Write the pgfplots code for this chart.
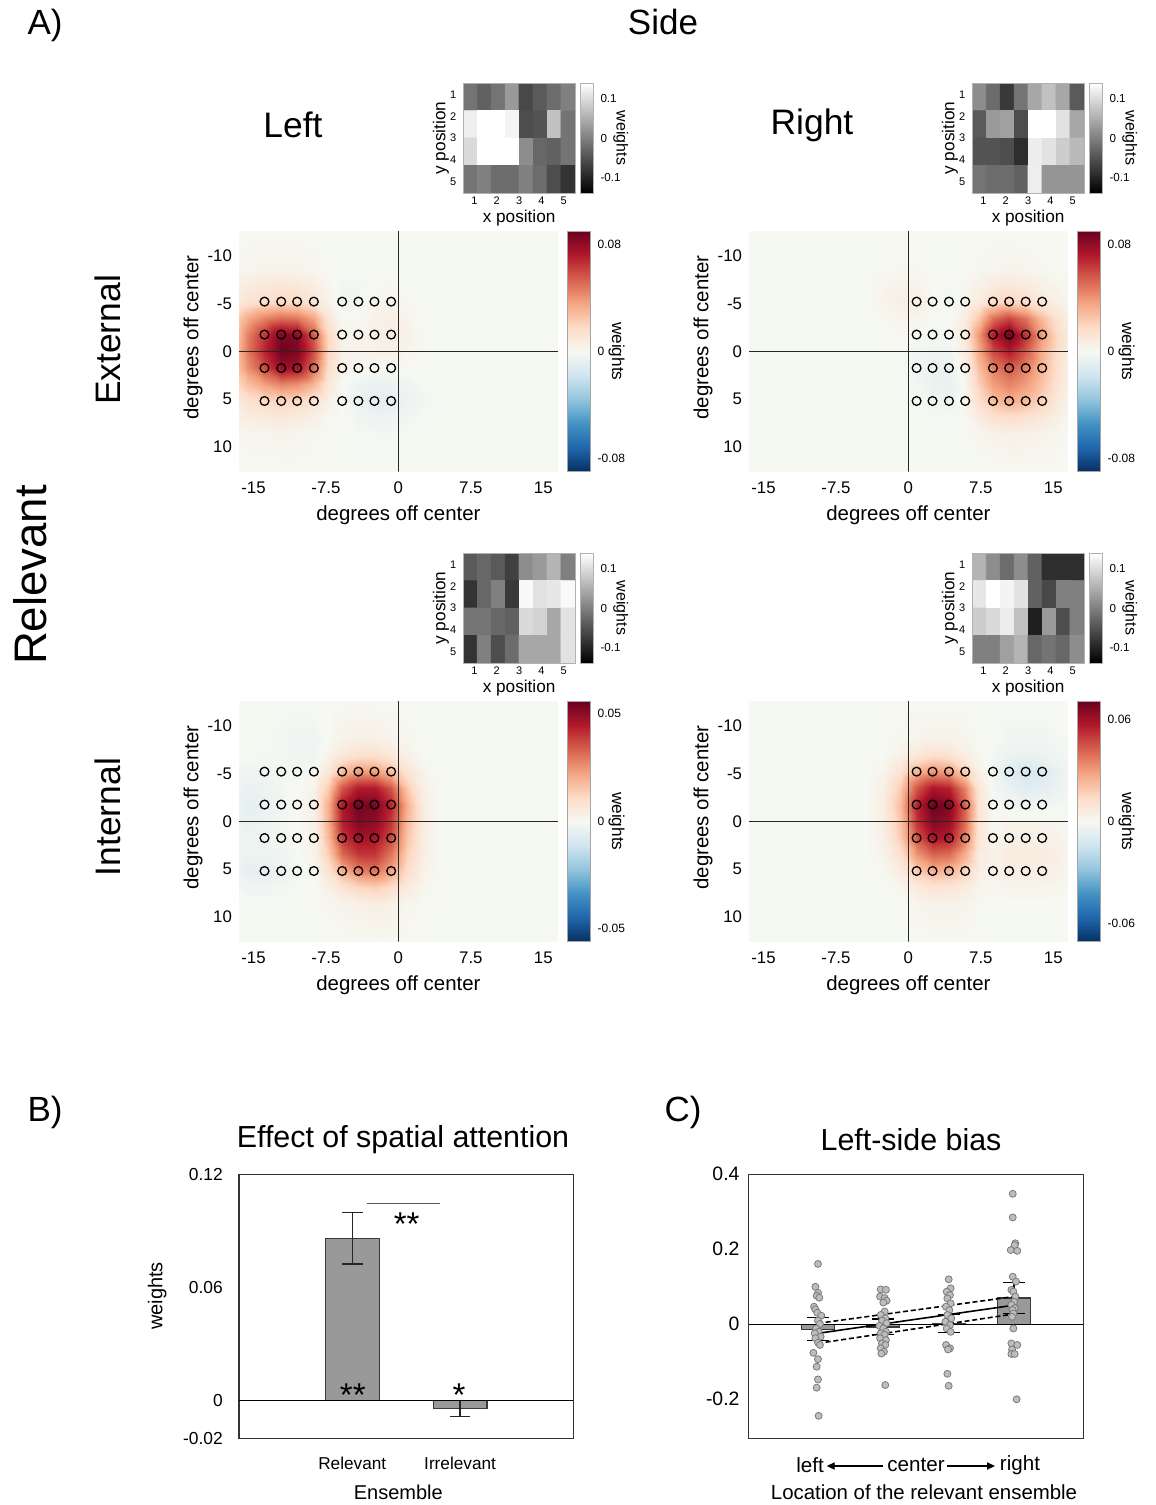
\documentclass[border=0pt]{standalone}
\usepackage{fontspec}
\setmainfont{Liberation Sans}
\usepackage{pgfplots}
\usepackage{pgfplotstable}
\pgfplotsset{compat=1.18}
\usetikzlibrary{arrows.meta}
\newcommand\fs[1]{\fontsize{#1}{#1}\selectfont}
\definecolor{barfill}{HTML}{999999}
\definecolor{baredge}{HTML}{3A3A3A}
\definecolor{ptfill}{HTML}{BDBDBD}
\definecolor{ptedge}{HTML}{7A7A7A}
\pgfplotsset{colormap={rdbu}{rgb255=(5,48,97) rgb255=(33,102,172) rgb255=(67,147,195) rgb255=(146,197,222) rgb255=(209,229,240) rgb255=(246,248,242) rgb255=(253,219,199) rgb255=(244,165,130) rgb255=(214,96,77) rgb255=(178,24,43) rgb255=(103,0,31)}}

% ---------- heat-map data (x, y up = -y shown, weight) ----------
\pgfplotstableread[row sep=\\]{x y z\\
-16.5 12.6 0\\-15.55 12.6 0\\-13.85 12.6 0\\-12.15 12.6 0\\-10.45 12.6 0\\-8.75 12.6 0\\-7.3 12.6 0\\-5.85 12.6 0\\-4.15 12.6 0\\-2.45 12.6 0\\-0.75 12.6 0\\0.9 12.6 0\\2.6 12.6 0\\4.3 12.6 0\\16.5 12.6 0\\
-16.5 8.65 0.001\\-15.55 8.65 0.002\\-13.85 8.65 0.003\\-12.15 8.65 0.003\\-10.45 8.65 0.003\\-8.75 8.65 0.002\\-7.3 8.65 0\\-5.85 8.65 0\\-4.15 8.65 0\\-2.45 8.65 0\\-0.75 8.65 0\\0.9 8.65 0\\2.6 8.65 0\\4.3 8.65 0\\16.5 8.65 0\\
-16.5 6.9 0.006\\-15.55 6.9 0.008\\-13.85 6.9 0.01\\-12.15 6.9 0.011\\-10.45 6.9 0.01\\-8.75 6.9 0.006\\-7.3 6.9 0.002\\-5.85 6.9 -0.002\\-4.15 6.9 -0.002\\-2.45 6.9 0\\-0.75 6.9 0.001\\0.9 6.9 0\\2.6 6.9 0\\4.3 6.9 0\\16.5 6.9 0\\
-16.5 5.2 0.01\\-15.55 5.2 0.013\\-13.85 5.2 0.016\\-12.15 5.2 0.018\\-10.45 5.2 0.017\\-8.75 5.2 0.012\\-7.3 5.2 0.004\\-5.85 5.2 -0.003\\-4.15 5.2 -0.002\\-2.45 5.2 0.002\\-0.75 5.2 0.003\\0.9 5.2 0.001\\2.6 5.2 0\\4.3 5.2 0\\16.5 5.2 0\\
-16.5 3.45 0.024\\-15.55 3.45 0.034\\-13.85 3.45 0.045\\-12.15 3.45 0.05\\-10.45 3.45 0.048\\-8.75 3.45 0.035\\-7.3 3.45 0.012\\-5.85 3.45 0\\-4.15 3.45 0\\-2.45 3.45 0.004\\-0.75 3.45 0.006\\0.9 3.45 0.003\\2.6 3.45 0\\4.3 3.45 0\\16.5 3.45 0\\
-16.5 1.75 0.03\\-15.55 1.75 0.046\\-13.85 1.75 0.066\\-12.15 1.75 0.085\\-10.45 1.75 0.082\\-8.75 1.75 0.055\\-7.3 1.75 0.018\\-5.85 1.75 0.003\\-4.15 1.75 0.004\\-2.45 1.75 0.006\\-0.75 1.75 0.007\\0.9 1.75 0.004\\2.6 1.75 0\\4.3 1.75 0\\16.5 1.75 0\\
-16.5 0 0.032\\-15.55 0 0.048\\-13.85 0 0.07\\-12.15 0 0.088\\-10.45 0 0.085\\-8.75 0 0.058\\-7.3 0 0.02\\-5.85 0 0.004\\-4.15 0 0.003\\-2.45 0 0.004\\-0.75 0 0.005\\0.9 0 0.002\\2.6 0 0\\4.3 0 0\\16.5 0 0\\
-16.5 -1.75 0.028\\-15.55 -1.75 0.042\\-13.85 -1.75 0.06\\-12.15 -1.75 0.078\\-10.45 -1.75 0.075\\-8.75 -1.75 0.05\\-7.3 -1.75 0.016\\-5.85 -1.75 0.004\\-4.15 -1.75 0.002\\-2.45 -1.75 0.001\\-0.75 -1.75 0\\0.9 -1.75 0\\2.6 -1.75 0\\4.3 -1.75 0\\16.5 -1.75 0\\
-16.5 -3.45 0.02\\-15.55 -3.45 0.028\\-13.85 -3.45 0.038\\-12.15 -3.45 0.045\\-10.45 -3.45 0.042\\-8.75 -3.45 0.03\\-7.3 -3.45 0.01\\-5.85 -3.45 0\\-4.15 -3.45 -0.004\\-2.45 -3.45 -0.006\\-0.75 -3.45 -0.005\\0.9 -3.45 -0.003\\2.6 -3.45 0\\4.3 -3.45 0\\16.5 -3.45 0\\
-16.5 -5.2 0.01\\-15.55 -5.2 0.014\\-13.85 -5.2 0.018\\-12.15 -5.2 0.02\\-10.45 -5.2 0.018\\-8.75 -5.2 0.012\\-7.3 -5.2 0.004\\-5.85 -5.2 0\\-4.15 -5.2 -0.006\\-2.45 -5.2 -0.009\\-0.75 -5.2 -0.008\\0.9 -5.2 -0.005\\2.6 -5.2 -0.002\\4.3 -5.2 0\\16.5 -5.2 0\\
-16.5 -6.9 0.005\\-15.55 -6.9 0.007\\-13.85 -6.9 0.009\\-12.15 -6.9 0.01\\-10.45 -6.9 0.008\\-8.75 -6.9 0.005\\-7.3 -6.9 0.001\\-5.85 -6.9 0\\-4.15 -6.9 -0.003\\-2.45 -6.9 -0.005\\-0.75 -6.9 -0.004\\0.9 -6.9 -0.002\\2.6 -6.9 0\\4.3 -6.9 0\\16.5 -6.9 0\\
-16.5 -8.65 0.001\\-15.55 -8.65 0.002\\-13.85 -8.65 0.002\\-12.15 -8.65 0.003\\-10.45 -8.65 0.002\\-8.75 -8.65 0.001\\-7.3 -8.65 0\\-5.85 -8.65 0\\-4.15 -8.65 -0.001\\-2.45 -8.65 -0.001\\-0.75 -8.65 -0.001\\0.9 -8.65 0\\2.6 -8.65 0\\4.3 -8.65 0\\16.5 -8.65 0\\
-16.5 -12.6 0\\-15.55 -12.6 0\\-13.85 -12.6 0\\-12.15 -12.6 0\\-10.45 -12.6 0\\-8.75 -12.6 0\\-7.3 -12.6 0\\-5.85 -12.6 0\\-4.15 -12.6 0\\-2.45 -12.6 0\\-0.75 -12.6 0\\0.9 -12.6 0\\2.6 -12.6 0\\4.3 -12.6 0\\16.5 -12.6 0\\
}\hmA

\pgfplotstableread[row sep=\\]{x y z\\
-16.5 12.6 0\\-4.3 12.6 0\\-2.6 12.6 0\\-0.9 12.6 0\\0.85 12.6 0\\2.5 12.6 0\\4.2 12.6 0\\5.88 12.6 0\\7.3 12.6 0\\8.75 12.6 0\\10.43 12.6 0\\12.14 12.6 0\\13.85 12.6 0\\15.55 12.6 0\\16.5 12.6 0\\
-16.5 8.65 0\\-4.3 8.65 0\\-2.6 8.65 0\\-0.9 8.65 0.001\\0.85 8.65 0.001\\2.5 8.65 0\\4.2 8.65 0\\5.88 8.65 0\\7.3 8.65 0.001\\8.75 8.65 0.002\\10.43 8.65 0.003\\12.14 8.65 0.002\\13.85 8.65 0.001\\15.55 8.65 0\\16.5 8.65 0\\
-16.5 6.9 0\\-4.3 6.9 0\\-2.6 6.9 0.002\\-0.9 6.9 0.004\\0.85 6.9 0.003\\2.5 6.9 0\\4.2 6.9 -0.001\\5.88 6.9 0.001\\7.3 6.9 0.004\\8.75 6.9 0.008\\10.43 6.9 0.01\\12.14 6.9 0.008\\13.85 6.9 0.005\\15.55 6.9 0.002\\16.5 6.9 0.001\\
-16.5 5.2 0\\-4.3 5.2 0\\-2.6 5.2 0.003\\-0.9 5.2 0.006\\0.85 5.2 0.005\\2.5 5.2 0.001\\4.2 5.2 -0.002\\5.88 5.2 0.002\\7.3 5.2 0.008\\8.75 5.2 0.016\\10.43 5.2 0.02\\12.14 5.2 0.016\\13.85 5.2 0.01\\15.55 5.2 0.005\\16.5 5.2 0.003\\
-16.5 3.45 0\\-4.3 3.45 0\\-2.6 3.45 0.001\\-0.9 3.45 0.003\\0.85 3.45 0.002\\2.5 3.45 0\\4.2 3.45 0\\5.88 3.45 0.006\\7.3 3.45 0.025\\8.75 3.45 0.05\\10.43 3.45 0.06\\12.14 3.45 0.048\\13.85 3.45 0.028\\15.55 3.45 0.012\\16.5 3.45 0.006\\
-16.5 1.75 0\\-4.3 1.75 0\\-2.6 1.75 0\\-0.9 1.75 0.001\\0.85 1.75 0\\2.5 1.75 -0.001\\4.2 1.75 -0.001\\5.88 1.75 0.01\\7.3 1.75 0.04\\8.75 1.75 0.072\\10.43 1.75 0.087\\12.14 1.75 0.065\\13.85 1.75 0.038\\15.55 1.75 0.016\\16.5 1.75 0.008\\
-16.5 0 0\\-4.3 0 0\\-2.6 0 0\\-0.9 0 0\\0.85 0 -0.002\\2.5 0 -0.003\\4.2 0 -0.003\\5.88 0 0.008\\7.3 0 0.035\\8.75 0 0.06\\10.43 0 0.072\\12.14 0 0.055\\13.85 0 0.032\\15.55 0 0.014\\16.5 0 0.007\\
-16.5 -1.75 0\\-4.3 -1.75 0\\-2.6 -1.75 0\\-0.9 -1.75 0\\0.85 -1.75 -0.003\\2.5 -1.75 -0.005\\4.2 -1.75 -0.006\\5.88 -1.75 0.004\\7.3 -1.75 0.028\\8.75 -1.75 0.046\\10.43 -1.75 0.055\\12.14 -1.75 0.045\\13.85 -1.75 0.03\\15.55 -1.75 0.013\\16.5 -1.75 0.006\\
-16.5 -3.45 0\\-4.3 -3.45 0\\-2.6 -3.45 0\\-0.9 -3.45 0\\0.85 -3.45 -0.002\\2.5 -3.45 -0.006\\4.2 -3.45 -0.007\\5.88 -3.45 0.002\\7.3 -3.45 0.022\\8.75 -3.45 0.038\\10.43 -3.45 0.045\\12.14 -3.45 0.038\\13.85 -3.45 0.026\\15.55 -3.45 0.011\\16.5 -3.45 0.005\\
-16.5 -5.2 0\\-4.3 -5.2 0\\-2.6 -5.2 0\\-0.9 -5.2 0\\0.85 -5.2 -0.001\\2.5 -5.2 -0.003\\4.2 -5.2 -0.004\\5.88 -5.2 0.002\\7.3 -5.2 0.016\\8.75 -5.2 0.028\\10.43 -5.2 0.033\\12.14 -5.2 0.028\\13.85 -5.2 0.02\\15.55 -5.2 0.008\\16.5 -5.2 0.004\\
-16.5 -6.9 0\\-4.3 -6.9 0\\-2.6 -6.9 0\\-0.9 -6.9 0\\0.85 -6.9 0\\2.5 -6.9 -0.001\\4.2 -6.9 -0.001\\5.88 -6.9 0.001\\7.3 -6.9 0.008\\8.75 -6.9 0.014\\10.43 -6.9 0.016\\12.14 -6.9 0.014\\13.85 -6.9 0.01\\15.55 -6.9 0.004\\16.5 -6.9 0.002\\
-16.5 -8.65 0\\-4.3 -8.65 0\\-2.6 -8.65 0\\-0.9 -8.65 0\\0.85 -8.65 0\\2.5 -8.65 0\\4.2 -8.65 0\\5.88 -8.65 0\\7.3 -8.65 0.002\\8.75 -8.65 0.004\\10.43 -8.65 0.005\\12.14 -8.65 0.004\\13.85 -8.65 0.003\\15.55 -8.65 0.001\\16.5 -8.65 0\\
-16.5 -12.6 0\\-4.3 -12.6 0\\-2.6 -12.6 0\\-0.9 -12.6 0\\0.85 -12.6 0\\2.5 -12.6 0\\4.2 -12.6 0\\5.88 -12.6 0\\7.3 -12.6 0\\8.75 -12.6 0\\10.43 -12.6 0\\12.14 -12.6 0\\13.85 -12.6 0\\15.55 -12.6 0\\16.5 -12.6 0\\
}\hmB

\pgfplotstableread[row sep=\\]{x y z\\
-16.5 12.6 0\\-15.55 12.6 0\\-13.85 12.6 0\\-12.15 12.6 0\\-10.45 12.6 0\\-8.75 12.6 0\\-7.3 12.6 0\\-5.85 12.6 0\\-4.15 12.6 0\\-2.45 12.6 0\\-0.75 12.6 0\\0.9 12.6 0\\2.6 12.6 0\\4.3 12.6 0\\16.5 12.6 0\\
-16.5 8.65 0\\-15.55 8.65 0\\-13.85 8.65 0\\-12.15 8.65 -0.001\\-10.45 8.65 -0.002\\-8.75 8.65 -0.002\\-7.3 8.65 0\\-5.85 8.65 0.002\\-4.15 8.65 0.003\\-2.45 8.65 0.003\\-0.75 8.65 0.002\\0.9 8.65 0.001\\2.6 8.65 0\\4.3 8.65 0\\16.5 8.65 0\\
-16.5 6.9 0\\-15.55 6.9 0\\-13.85 6.9 -0.001\\-12.15 6.9 -0.001\\-10.45 6.9 -0.002\\-8.75 6.9 -0.002\\-7.3 6.9 0.002\\-5.85 6.9 0.006\\-4.15 6.9 0.009\\-2.45 6.9 0.009\\-0.75 6.9 0.006\\0.9 6.9 0.003\\2.6 6.9 0\\4.3 6.9 0\\16.5 6.9 0\\
-16.5 5.2 -0.001\\-15.55 5.2 -0.002\\-13.85 5.2 -0.002\\-12.15 5.2 -0.001\\-10.45 5.2 -0.001\\-8.75 5.2 0\\-7.3 5.2 0.006\\-5.85 5.2 0.018\\-4.15 5.2 0.024\\-2.45 5.2 0.024\\-0.75 5.2 0.018\\0.9 5.2 0.008\\2.6 5.2 0.002\\4.3 5.2 0\\16.5 5.2 0\\
-16.5 3.45 -0.003\\-15.55 3.45 -0.004\\-13.85 3.45 -0.003\\-12.15 3.45 -0.001\\-10.45 3.45 0\\-8.75 3.45 0.002\\-7.3 3.45 0.014\\-5.85 3.45 0.035\\-4.15 3.45 0.045\\-2.45 3.45 0.045\\-0.75 3.45 0.035\\0.9 3.45 0.015\\2.6 3.45 0.003\\4.3 3.45 0\\16.5 3.45 0\\
-16.5 1.75 -0.004\\-15.55 1.75 -0.005\\-13.85 1.75 -0.004\\-12.15 1.75 -0.002\\-10.45 1.75 0\\-8.75 1.75 0.003\\-7.3 1.75 0.02\\-5.85 1.75 0.045\\-4.15 1.75 0.054\\-2.45 1.75 0.053\\-0.75 1.75 0.043\\0.9 1.75 0.02\\2.6 1.75 0.004\\4.3 1.75 0\\16.5 1.75 0\\
-16.5 0 -0.003\\-15.55 0 -0.004\\-13.85 0 -0.003\\-12.15 0 -0.001\\-10.45 0 0\\-8.75 0 0.003\\-7.3 0 0.02\\-5.85 0 0.044\\-4.15 0 0.052\\-2.45 0 0.05\\-0.75 0 0.04\\0.9 0 0.018\\2.6 0 0.004\\4.3 0 0\\16.5 0 0\\
-16.5 -1.75 -0.002\\-15.55 -1.75 -0.003\\-13.85 -1.75 -0.002\\-12.15 -1.75 -0.001\\-10.45 -1.75 0\\-8.75 -1.75 0.002\\-7.3 -1.75 0.018\\-5.85 -1.75 0.04\\-4.15 -1.75 0.047\\-2.45 -1.75 0.046\\-0.75 -1.75 0.037\\0.9 -1.75 0.016\\2.6 -1.75 0.003\\4.3 -1.75 0\\16.5 -1.75 0\\
-16.5 -3.45 -0.002\\-15.55 -3.45 -0.003\\-13.85 -3.45 -0.003\\-12.15 -3.45 -0.002\\-10.45 -3.45 0\\-8.75 -3.45 0.002\\-7.3 -3.45 0.014\\-5.85 -3.45 0.032\\-4.15 -3.45 0.04\\-2.45 -3.45 0.04\\-0.75 -3.45 0.03\\0.9 -3.45 0.013\\2.6 -3.45 0.003\\4.3 -3.45 0\\16.5 -3.45 0\\
-16.5 -5.2 -0.003\\-15.55 -5.2 -0.005\\-13.85 -5.2 -0.005\\-12.15 -5.2 -0.003\\-10.45 -5.2 -0.001\\-8.75 -5.2 0.001\\-7.3 -5.2 0.008\\-5.85 -5.2 0.02\\-4.15 -5.2 0.028\\-2.45 -5.2 0.03\\-0.75 -5.2 0.022\\0.9 -5.2 0.01\\2.6 -5.2 0.002\\4.3 -5.2 0\\16.5 -5.2 0\\
-16.5 -6.9 -0.001\\-15.55 -6.9 -0.002\\-13.85 -6.9 -0.002\\-12.15 -6.9 -0.001\\-10.45 -6.9 0\\-8.75 -6.9 0\\-7.3 -6.9 0.003\\-5.85 -6.9 0.008\\-4.15 -6.9 0.012\\-2.45 -6.9 0.014\\-0.75 -6.9 0.01\\0.9 -6.9 0.005\\2.6 -6.9 0.001\\4.3 -6.9 0\\16.5 -6.9 0\\
-16.5 -8.65 0\\-15.55 -8.65 0\\-13.85 -8.65 0\\-12.15 -8.65 0\\-10.45 -8.65 0\\-8.75 -8.65 0\\-7.3 -8.65 0.001\\-5.85 -8.65 0.002\\-4.15 -8.65 0.003\\-2.45 -8.65 0.004\\-0.75 -8.65 0.003\\0.9 -8.65 0.001\\2.6 -8.65 0\\4.3 -8.65 0\\16.5 -8.65 0\\
-16.5 -12.6 0\\-15.55 -12.6 0\\-13.85 -12.6 0\\-12.15 -12.6 0\\-10.45 -12.6 0\\-8.75 -12.6 0\\-7.3 -12.6 0\\-5.85 -12.6 0\\-4.15 -12.6 0\\-2.45 -12.6 0\\-0.75 -12.6 0\\0.9 -12.6 0\\2.6 -12.6 0\\4.3 -12.6 0\\16.5 -12.6 0\\
}\hmC

\pgfplotstableread[row sep=\\]{x y z\\
-16.5 12.6 0\\-4.3 12.6 0\\-2.6 12.6 0\\-0.9 12.6 0\\0.85 12.6 0\\2.5 12.6 0\\4.2 12.6 0\\5.88 12.6 0\\7.3 12.6 0\\8.75 12.6 0\\10.43 12.6 0\\12.14 12.6 0\\13.85 12.6 0\\15.55 12.6 0\\16.5 12.6 0\\
-16.5 8.65 0\\-4.3 8.65 0\\-2.6 8.65 0\\-0.9 8.65 0.001\\0.85 8.65 0.002\\2.5 8.65 0.003\\4.2 8.65 0.003\\5.88 8.65 0.002\\7.3 8.65 0\\8.75 8.65 0\\10.43 8.65 -0.002\\12.14 8.65 -0.002\\13.85 8.65 -0.002\\15.55 8.65 -0.001\\16.5 8.65 0\\
-16.5 6.9 0\\-4.3 6.9 0\\-2.6 6.9 0\\-0.9 6.9 0.003\\0.85 6.9 0.008\\2.5 6.9 0.012\\4.2 6.9 0.01\\5.88 6.9 0.005\\7.3 6.9 0.001\\8.75 6.9 -0.001\\10.43 6.9 -0.004\\12.14 6.9 -0.005\\13.85 6.9 -0.004\\15.55 6.9 -0.002\\16.5 6.9 -0.001\\
-16.5 5.2 0\\-4.3 5.2 0\\-2.6 5.2 0.002\\-0.9 5.2 0.01\\0.85 5.2 0.025\\2.5 5.2 0.032\\4.2 5.2 0.03\\5.88 5.2 0.018\\7.3 5.2 0.004\\8.75 5.2 -0.002\\10.43 5.2 -0.008\\12.14 5.2 -0.012\\13.85 5.2 -0.01\\15.55 5.2 -0.005\\16.5 5.2 -0.003\\
-16.5 3.45 0\\-4.3 3.45 0\\-2.6 3.45 0.004\\-0.9 3.45 0.018\\0.85 3.45 0.045\\2.5 3.45 0.058\\4.2 3.45 0.055\\5.88 3.45 0.035\\7.3 3.45 0.008\\8.75 3.45 -0.001\\10.43 3.45 -0.005\\12.14 3.45 -0.008\\13.85 3.45 -0.007\\15.55 3.45 -0.004\\16.5 3.45 -0.002\\
-16.5 1.75 0\\-4.3 1.75 0\\-2.6 1.75 0.005\\-0.9 1.75 0.022\\0.85 1.75 0.055\\2.5 1.75 0.07\\4.2 1.75 0.066\\5.88 1.75 0.042\\7.3 1.75 0.01\\8.75 1.75 0\\10.43 1.75 -0.002\\12.14 1.75 -0.003\\13.85 1.75 -0.002\\15.55 1.75 -0.001\\16.5 1.75 0\\
-16.5 0 0\\-4.3 0 0\\-2.6 0 0.005\\-0.9 0 0.02\\0.85 0 0.052\\2.5 0 0.066\\4.2 0 0.062\\5.88 0 0.04\\7.3 0 0.009\\8.75 0 0\\10.43 0 0.002\\12.14 0 0.002\\13.85 0 0.002\\15.55 0 0.001\\16.5 0 0\\
-16.5 -1.75 0\\-4.3 -1.75 0\\-2.6 -1.75 0.004\\-0.9 -1.75 0.018\\0.85 -1.75 0.045\\2.5 -1.75 0.058\\4.2 -1.75 0.056\\5.88 -1.75 0.036\\7.3 -1.75 0.008\\8.75 -1.75 0.001\\10.43 -1.75 0.004\\12.14 -1.75 0.004\\13.85 -1.75 0.004\\15.55 -1.75 0.003\\16.5 -1.75 0.001\\
-16.5 -3.45 0\\-4.3 -3.45 0\\-2.6 -3.45 0.003\\-0.9 -3.45 0.012\\0.85 -3.45 0.032\\2.5 -3.45 0.042\\4.2 -3.45 0.04\\5.88 -3.45 0.026\\7.3 -3.45 0.006\\8.75 -3.45 0.003\\10.43 -3.45 0.006\\12.14 -3.45 0.006\\13.85 -3.45 0.006\\15.55 -3.45 0.004\\16.5 -3.45 0.002\\
-16.5 -5.2 0\\-4.3 -5.2 0\\-2.6 -5.2 0.001\\-0.9 -5.2 0.006\\0.85 -5.2 0.018\\2.5 -5.2 0.025\\4.2 -5.2 0.024\\5.88 -5.2 0.015\\7.3 -5.2 0.004\\8.75 -5.2 0.003\\10.43 -5.2 0.005\\12.14 -5.2 0.005\\13.85 -5.2 0.005\\15.55 -5.2 0.003\\16.5 -5.2 0.001\\
-16.5 -6.9 0\\-4.3 -6.9 0\\-2.6 -6.9 0\\-0.9 -6.9 0.002\\0.85 -6.9 0.007\\2.5 -6.9 0.01\\4.2 -6.9 0.009\\5.88 -6.9 0.006\\7.3 -6.9 0.002\\8.75 -6.9 0.001\\10.43 -6.9 0.002\\12.14 -6.9 0.002\\13.85 -6.9 0.002\\15.55 -6.9 0.001\\16.5 -6.9 0\\
-16.5 -8.65 0\\-4.3 -8.65 0\\-2.6 -8.65 0\\-0.9 -8.65 0\\0.85 -8.65 0.002\\2.5 -8.65 0.003\\4.2 -8.65 0.003\\5.88 -8.65 0.002\\7.3 -8.65 0\\8.75 -8.65 0\\10.43 -8.65 0\\12.14 -8.65 0\\13.85 -8.65 0\\15.55 -8.65 0\\16.5 -8.65 0\\
-16.5 -12.6 0\\-4.3 -12.6 0\\-2.6 -12.6 0\\-0.9 -12.6 0\\0.85 -12.6 0\\2.5 -12.6 0\\4.2 -12.6 0\\5.88 -12.6 0\\7.3 -12.6 0\\8.75 -12.6 0\\10.43 -12.6 0\\12.14 -12.6 0\\13.85 -12.6 0\\15.55 -12.6 0\\16.5 -12.6 0\\
}\hmD

% ---------- 8 x 4 weight images (insets), row 1 on top ----------
\pgfplotstableread[row sep=\\]{x y c\\
0.8125 1.125 -0.014\\1.4375 1.125 -0.034\\2.0625 1.125 -0.014\\2.6875 1.125 0.028\\3.3125 1.125 -0.062\\3.9375 1.125 -0.042\\4.5625 1.125 -0.022\\5.1875 1.125 0\\
0.8125 2.375 0.120\\1.4375 2.375 0.14\\2.0625 2.375 0.14\\2.6875 2.375 0.126\\3.3125 2.375 -0.056\\3.9375 2.375 -0.050\\4.5625 2.375 0.070\\5.1875 2.375 -0.014\\
0.8125 3.625 0.098\\1.4375 3.625 0.14\\2.0625 3.625 0.14\\2.6875 3.625 0.14\\3.3125 3.625 0.014\\3.9375 3.625 -0.028\\4.5625 3.625 -0.034\\5.1875 3.625 -0.014\\
0.8125 4.875 -0.014\\1.4375 4.875 0\\2.0625 4.875 -0.022\\2.6875 4.875 -0.022\\3.3125 4.875 0\\3.9375 4.875 -0.022\\4.5625 4.875 -0.056\\5.1875 4.875 -0.084\\
}\inA
\pgfplotstableread[row sep=\\]{x y c\\
0.8125 1.125 0.014\\1.4375 1.125 -0.022\\2.0625 1.125 -0.078\\2.6875 1.125 -0.014\\3.3125 1.125 0.042\\3.9375 1.125 0.07\\4.5625 1.125 0.042\\5.1875 1.125 -0.042\\
0.8125 2.375 -0.042\\1.4375 2.375 0.028\\2.0625 2.375 0.034\\2.6875 2.375 -0.056\\3.3125 2.375 0.14\\3.9375 2.375 0.14\\4.5625 2.375 0.106\\5.1875 2.375 0.042\\
0.8125 3.625 -0.050\\1.4375 3.625 -0.050\\2.0625 3.625 -0.056\\2.6875 3.625 -0.090\\3.3125 3.625 0.118\\3.9375 3.625 0.106\\4.5625 3.625 0.084\\5.1875 3.625 0.062\\
0.8125 4.875 -0.014\\1.4375 4.875 -0.022\\2.0625 4.875 -0.022\\2.6875 4.875 -0.034\\3.3125 4.875 0.120\\3.9375 4.875 0.022\\4.5625 4.875 0.022\\5.1875 4.875 0.022\\
}\inB
\pgfplotstableread[row sep=\\]{x y c\\
0.8125 1.125 -0.042\\1.4375 1.125 -0.028\\2.0625 1.125 -0.042\\2.6875 1.125 -0.070\\3.3125 1.125 0.014\\3.9375 1.125 0.028\\4.5625 1.125 0.056\\5.1875 1.125 0\\
0.8125 2.375 -0.084\\1.4375 2.375 -0.028\\2.0625 2.375 0\\2.6875 2.375 -0.078\\3.3125 2.375 0.132\\3.9375 2.375 0.106\\4.5625 2.375 0.112\\5.1875 2.375 0.132\\
0.8125 3.625 -0.014\\1.4375 3.625 -0.014\\2.0625 3.625 -0.028\\2.6875 3.625 -0.034\\3.3125 3.625 0.098\\3.9375 3.625 0.090\\4.5625 3.625 0.042\\5.1875 3.625 0.106\\
0.8125 4.875 -0.084\\1.4375 4.875 0\\2.0625 4.875 -0.056\\2.6875 4.875 -0.022\\3.3125 4.875 0.042\\3.9375 4.875 0.042\\4.5625 4.875 0.042\\5.1875 4.875 0.106\\
}\inC
\pgfplotstableread[row sep=\\]{x y c\\
0.8125 1.125 0.056\\1.4375 1.125 0.014\\2.0625 1.125 -0.022\\2.6875 1.125 0.014\\3.3125 1.125 -0.034\\3.9375 1.125 -0.090\\4.5625 1.125 -0.090\\5.1875 1.125 -0.090\\
0.8125 2.375 0.112\\1.4375 2.375 0.14\\2.0625 2.375 0.126\\2.6875 2.375 0.106\\3.3125 2.375 -0.034\\3.9375 2.375 -0.062\\4.5625 2.375 0\\5.1875 2.375 0\\
0.8125 3.625 0.084\\1.4375 3.625 0.098\\2.0625 3.625 0.118\\2.6875 3.625 0.070\\3.3125 3.625 -0.106\\3.9375 3.625 0.028\\4.5625 3.625 -0.056\\5.1875 3.625 0\\
0.8125 4.875 0\\1.4375 4.875 0\\2.0625 4.875 0.034\\2.6875 4.875 0.056\\3.3125 4.875 -0.028\\3.9375 4.875 -0.014\\4.5625 4.875 -0.028\\5.1875 4.875 0.014\\
}\inD

\pgfplotsset{
 hm/.style={
  scale only axis, width=159.4pt, height=120.4pt, view={0}{90},
  xmin=-16.5, xmax=16.5, ymin=-12.6, ymax=12.6, zmin=-1, zmax=1,
  xtick={-15,-7.5,0,7.5,15}, xticklabels={-15,-7.5,0,7.5,15},
  ytick={-10,-5,0,5,10}, yticklabels={10,5,0,-5,-10}, ztick=\empty,
  axis line style={draw=none}, major tick length=0pt,
  xticklabel style={font=\fs{8.4}, yshift=-1.7pt},
  yticklabel style={font=\fs{8.4}},
  xlabel={degrees off center}, ylabel={degrees off center},
  every axis x label/.style={at={(axis description cs:0.5,-0.18)}, anchor=center, font=\fs{10.2}},
  every axis y label/.style={at={(axis description cs:-0.144,0.557)}, anchor=center, rotate=90, font=\fs{10.2}},
  colormap name=rdbu, colorbar,
  colorbar style={at={(parent axis.north east)}, anchor=north west, xshift=-3.6pt, width=11.5pt,
    axis line style={draw=gray!70, line width=0.4pt}, major tick length=0pt,
    scaled y ticks=false,
    yticklabel style={font=\fs{6}}, ylabel={weights},
    every axis y label/.style={at={(axis description cs:2.13,0.5)}, anchor=center, rotate=-90, font=\fs{8.6}}},
 },
 circ/.style={only marks, mark=o, mark size=2.2pt, mark options={draw=black, line width=0.65pt}},
 ins/.style={
  scale only axis, width=55.8pt, height=54.8pt,
  xmin=0.5, xmax=5.5, ymin=0.5, ymax=5.5, enlargelimits=false, y dir=reverse,
  xtick={1,2,3,4,5}, xticklabels={1,2,3,4,5},
  ytick={1,2,3,4,5}, yticklabels={1,2,3,4,5},
  axis line style={draw=gray!60, line width=0.3pt}, major tick length=0pt,
  xticklabel style={font=\fs{5.5}, yshift=1.4pt},
  yticklabel style={font=\fs{5.5}},
  xlabel={x position}, ylabel={y position},
  every axis x label/.style={at={(axis description cs:0.5,-0.225)}, anchor=center, font=\fs{8.6}},
  every axis y label/.style={at={(axis description cs:-0.2,0.5)}, anchor=center, rotate=90, font=\fs{8.6}},
  colormap/blackwhite,
  point meta min=-0.14, point meta max=0.14,
  colorbar,
  colorbar style={at={(parent axis.north east)}, anchor=north west, xshift=-5.6pt, width=6.35pt,
    axis line style={draw=gray!60, line width=0.3pt}, major tick length=0pt,
    scaled y ticks=false, y dir=normal,
    ytick={-0.1,0,0.1}, yticklabels={-0.1,0,0.1},
    yticklabel style={font=\fs{5.8}}, ylabel={weights},
    every axis y label/.style={at={(axis description cs:3.15,0.5)}, anchor=center, rotate=-90, font=\fs{8}}},
 },
}

\begin{document}
\begin{tikzpicture}
\path[use as bounding box] (0,0) rectangle (578pt,-752.5pt);

% ---------------- A) External / Left ----------------
\begin{axis}[hm, at={(119.5pt,-235.85pt)}, anchor=south west,
  point meta min=-0.09, point meta max=0.09,
  colorbar style={ytick={-0.08,0,0.08}, yticklabels={-0.08,0,0.08}}]
\addplot3[surf, shader=interp, mesh/rows=13, mesh/cols=15] table[x=x,y=y,z=z] {\hmA};
\addplot3[black!85, line width=0.6pt] coordinates {(-16.5,0,0) (16.5,0,0)};
\addplot3[black!85, line width=0.6pt] coordinates {(0,-12.6,0) (0,12.6,0)};
\addplot3[circ] coordinates {
(-13.86,5.2,0) (-12.13,5.2,0) (-10.48,5.2,0) (-8.75,5.2,0) (-5.82,5.2,0) (-4.14,5.2,0) (-2.48,5.2,0) (-0.75,5.2,0)
(-13.86,1.75,0) (-12.13,1.75,0) (-10.48,1.75,0) (-8.75,1.75,0) (-5.82,1.75,0) (-4.14,1.75,0) (-2.48,1.75,0) (-0.75,1.75,0)
(-13.86,-1.75,0) (-12.13,-1.75,0) (-10.48,-1.75,0) (-8.75,-1.75,0) (-5.82,-1.75,0) (-4.14,-1.75,0) (-2.48,-1.75,0) (-0.75,-1.75,0)
(-13.86,-5.2,0) (-12.13,-5.2,0) (-10.48,-5.2,0) (-8.75,-5.2,0) (-5.82,-5.2,0) (-4.14,-5.2,0) (-2.48,-5.2,0) (-0.75,-5.2,0)};
\end{axis}

% ---------------- External / Right ----------------
\begin{axis}[hm, at={(374.5pt,-235.85pt)}, anchor=south west,
  point meta min=-0.09, point meta max=0.09,
  colorbar style={ytick={-0.08,0,0.08}, yticklabels={-0.08,0,0.08}}]
\addplot3[surf, shader=interp, mesh/rows=13, mesh/cols=15] table[x=x,y=y,z=z] {\hmB};
\addplot3[black!85, line width=0.6pt] coordinates {(-16.5,0,0) (16.5,0,0)};
\addplot3[black!85, line width=0.6pt] coordinates {(0,-12.6,0) (0,12.6,0)};
\addplot3[circ] coordinates {
(0.85,5.2,0) (2.5,5.2,0) (4.2,5.2,0) (5.88,5.2,0) (8.75,5.2,0) (10.43,5.2,0) (12.14,5.2,0) (13.85,5.2,0)
(0.85,1.75,0) (2.5,1.75,0) (4.2,1.75,0) (5.88,1.75,0) (8.75,1.75,0) (10.43,1.75,0) (12.14,1.75,0) (13.85,1.75,0)
(0.85,-1.75,0) (2.5,-1.75,0) (4.2,-1.75,0) (5.88,-1.75,0) (8.75,-1.75,0) (10.43,-1.75,0) (12.14,-1.75,0) (13.85,-1.75,0)
(0.85,-5.2,0) (2.5,-5.2,0) (4.2,-5.2,0) (5.88,-5.2,0) (8.75,-5.2,0) (10.43,-5.2,0) (12.14,-5.2,0) (13.85,-5.2,0)};
\end{axis}

% ---------------- Internal / Left ----------------
\begin{axis}[hm, at={(119.5pt,-470.85pt)}, anchor=south west,
  point meta min=-0.056, point meta max=0.056,
  colorbar style={ytick={-0.05,0,0.05}, yticklabels={-0.05,0,0.05}}]
\addplot3[surf, shader=interp, mesh/rows=13, mesh/cols=15] table[x=x,y=y,z=z] {\hmC};
\addplot3[black!85, line width=0.6pt] coordinates {(-16.5,0,0) (16.5,0,0)};
\addplot3[black!85, line width=0.6pt] coordinates {(0,-12.6,0) (0,12.6,0)};
\addplot3[circ] coordinates {
(-13.86,5.2,0) (-12.13,5.2,0) (-10.48,5.2,0) (-8.75,5.2,0) (-5.82,5.2,0) (-4.14,5.2,0) (-2.48,5.2,0) (-0.75,5.2,0)
(-13.86,1.75,0) (-12.13,1.75,0) (-10.48,1.75,0) (-8.75,1.75,0) (-5.82,1.75,0) (-4.14,1.75,0) (-2.48,1.75,0) (-0.75,1.75,0)
(-13.86,-1.75,0) (-12.13,-1.75,0) (-10.48,-1.75,0) (-8.75,-1.75,0) (-5.82,-1.75,0) (-4.14,-1.75,0) (-2.48,-1.75,0) (-0.75,-1.75,0)
(-13.86,-5.2,0) (-12.13,-5.2,0) (-10.48,-5.2,0) (-8.75,-5.2,0) (-5.82,-5.2,0) (-4.14,-5.2,0) (-2.48,-5.2,0) (-0.75,-5.2,0)};
\end{axis}

% ---------------- Internal / Right ----------------
\begin{axis}[hm, at={(374.5pt,-470.85pt)}, anchor=south west,
  point meta min=-0.071, point meta max=0.071,
  colorbar style={ytick={-0.06,0,0.06}, yticklabels={-0.06,0,0.06}}]
\addplot3[surf, shader=interp, mesh/rows=13, mesh/cols=15] table[x=x,y=y,z=z] {\hmD};
\addplot3[black!85, line width=0.6pt] coordinates {(-16.5,0,0) (16.5,0,0)};
\addplot3[black!85, line width=0.6pt] coordinates {(0,-12.6,0) (0,12.6,0)};
\addplot3[circ] coordinates {
(0.85,5.2,0) (2.5,5.2,0) (4.2,5.2,0) (5.88,5.2,0) (8.75,5.2,0) (10.43,5.2,0) (12.14,5.2,0) (13.85,5.2,0)
(0.85,1.75,0) (2.5,1.75,0) (4.2,1.75,0) (5.88,1.75,0) (8.75,1.75,0) (10.43,1.75,0) (12.14,1.75,0) (13.85,1.75,0)
(0.85,-1.75,0) (2.5,-1.75,0) (4.2,-1.75,0) (5.88,-1.75,0) (8.75,-1.75,0) (10.43,-1.75,0) (12.14,-1.75,0) (13.85,-1.75,0)
(0.85,-5.2,0) (2.5,-5.2,0) (4.2,-5.2,0) (5.88,-5.2,0) (8.75,-5.2,0) (10.43,-5.2,0) (12.14,-5.2,0) (13.85,-5.2,0)};
\end{axis}

% ---------------- insets ----------------
\begin{axis}[ins, at={(231.65pt,-41.65pt)}, anchor=north west]
\addplot[matrix plot, mesh/cols=8, point meta=explicit] table[x=x,y=y,meta=c] {\inA};
\end{axis}
\begin{axis}[ins, at={(486.15pt,-41.65pt)}, anchor=north west]
\addplot[matrix plot, mesh/cols=8, point meta=explicit] table[x=x,y=y,meta=c] {\inB};
\end{axis}
\begin{axis}[ins, at={(231.65pt,-276.65pt)}, anchor=north west]
\addplot[matrix plot, mesh/cols=8, point meta=explicit] table[x=x,y=y,meta=c] {\inC};
\end{axis}
\begin{axis}[ins, at={(486.15pt,-276.65pt)}, anchor=north west]
\addplot[matrix plot, mesh/cols=8, point meta=explicit] table[x=x,y=y,meta=c] {\inD};
\end{axis}

% ---------------- B) ----------------
\begin{axis}[at={(119.5pt,-719.15pt)}, anchor=south west, scale only axis,
  width=167.15pt, height=132pt, clip=false,
  xmin=-0.05, xmax=3.05, ymin=-0.02, ymax=0.12,
  xtick={1,2}, xticklabels={Relevant,Irrelevant},
  ytick={-0.02,0,0.06,0.12}, yticklabels={-0.02,0,0.06,0.12},
  major tick length=0pt,
  axis line style={draw=black!80, line width=0.65pt},
  xticklabel style={font=\fs{8.6}, yshift=-6pt},
  yticklabel style={font=\fs{8.7}, xshift=-4.6pt},
  ylabel={weights}, xlabel={Ensemble},
  every axis y label/.style={at={(axis description cs:-0.245,0.539)}, anchor=center, rotate=90, font=\fs{10}},
  every axis x label/.style={at={(axis description cs:0.4765,-0.203)}, anchor=center, font=\fs{10}}]
\addplot[ybar, bar width=0.5, fill=barfill, draw=baredge, line width=0.6pt,
  error bars/.cd, y dir=both, y explicit,
  error bar style={draw=black!85, line width=0.6pt},
  error mark options={rotate=90, draw=black!85, mark size=5.2pt, line width=0.6pt}]
  coordinates {(1,0.086) +- (0,0.0136) (2,-0.0041) +- (0,0.0042)};
\addplot[black, line width=0.5pt] coordinates {(-0.05,0) (3.05,0)};
\draw[gray!70!black, line width=0.5pt] (axis cs:1.135,0.1046) -- (axis cs:1.81,0.1046);
\node[anchor=base, font=\fs{16.5}, inner sep=0pt] at (axis cs:1.505,0.0878) {**};
\node[anchor=base, font=\fs{16.5}, inner sep=0pt] at (axis cs:1.005,-0.0032) {**};
\node[anchor=base, font=\fs{16.5}, inner sep=0pt] at (axis cs:1.99,-0.0032) {*};
\end{axis}

% ---------------- C) ----------------
\begin{axis}[at={(374.35pt,-719.15pt)}, anchor=south west, scale only axis,
  width=167.3pt, height=132pt, clip=false,
  xmin=-0.06, xmax=5.06, ymin=-0.304, ymax=0.4,
  xtick=\empty,
  ytick={-0.2,0,0.2,0.4}, yticklabels={-0.2,0,0.2,0.4},
  major tick length=0pt,
  axis line style={draw=black!80, line width=0.65pt},
  yticklabel style={font=\fs{9.7}, xshift=-1.1pt}]
\addplot[ybar, bar width=0.5, fill=barfill, draw=baredge, line width=0.6pt,
  error bars/.cd, y dir=both, y explicit,
  error bar style={draw=black, line width=0.6pt},
  error mark options={rotate=90, draw=black, mark size=5.5pt, line width=0.6pt}]
  coordinates {(1,-0.013) +- (0,0.031) (2,-0.007) +- (0,0.021) (3,0.003) +- (0,0.024) (4,0.070) +- (0,0.041)};
\addplot[black, line width=0.5pt] coordinates {(-0.06,0) (5.06,0)};
\addplot[only marks, mark=*, mark size=1.75pt, mark options={fill=ptfill, draw=ptedge, line width=0.4pt}] coordinates {
(1.00,0.161) (0.96,0.100) (1.00,0.084) (0.98,0.076) (1.02,0.071) (0.94,0.047) (0.96,0.040) (0.99,0.031) (1.05,0.023) (1.00,0.010) (1.03,0.001) (0.97,-0.011) (1.01,-0.020) (0.95,-0.024) (1.04,-0.033) (0.96,-0.037) (1.00,-0.049) (1.03,-0.055) (0.93,-0.076) (1.00,-0.093) (0.98,-0.113) (1.00,-0.147) (0.98,-0.169) (1.01,-0.244)
(1.96,0.093) (2.04,0.092) (1.95,0.074) (2.02,0.070) (2.05,0.063) (2.00,0.058) (2.02,0.034) (1.96,0.025) (2.03,0.016) (1.98,0.010) (2.05,0.003) (1.94,-0.004) (2.00,-0.011) (2.04,-0.020) (1.96,-0.024) (2.02,-0.028) (1.95,-0.037) (2.04,-0.042) (1.98,-0.051) (2.03,-0.055) (1.96,-0.064) (2.01,-0.073) (1.97,-0.078) (2.03,-0.162)
(3.00,0.120) (3.03,0.096) (2.97,0.087) (3.02,0.078) (2.98,0.069) (3.03,0.056) (2.96,0.047) (3.01,0.038) (2.98,0.025) (3.04,0.016) (2.95,0.007) (3.02,-0.002) (2.97,-0.011) (3.03,-0.020) (2.96,-0.055) (3.02,-0.064) (2.99,-0.067) (2.98,-0.132) (3.00,-0.164)
(3.98,0.348) (3.98,0.285) (4.02,0.216) (4.01,0.211) (3.95,0.198) (4.05,0.196) (3.98,0.127) (4.03,0.114) (3.96,0.092) (3.99,0.087) (4.02,0.074) (4.00,0.060) (3.96,0.052) (4.01,0.043) (3.98,0.038) (3.99,0.029) (3.97,0.020) (3.99,-0.011) (3.96,-0.051) (4.05,-0.055) (3.97,-0.067) (3.96,-0.079) (4.01,-0.079) (4.04,-0.200)};
\addplot[black, line width=0.8pt] coordinates {(1,-0.024) (4,0.051)};
\addplot[black, line width=0.8pt, dash pattern=on 2.5pt off 1.4pt] coordinates {(1,0.0027) (4,0.074)};
\addplot[black, line width=0.8pt, dash pattern=on 2.5pt off 1.4pt] coordinates {(1,-0.0507) (4,0.0276)};
\end{axis}

% ---------------- free text ----------------
\node[font=\fs{17.5}] at (22.5pt,-12.5pt) {A)};
\node[font=\fs{17.5}] at (331.5pt,-11pt) {Side};
\node[font=\fs{17.7}] at (146.5pt,-62.5pt) {Left};
\node[font=\fs{17.7}] at (406pt,-62.5pt) {Right};
\node[font=\fs{17.7}, rotate=90] at (54pt,-170pt) {External};
\node[font=\fs{17.7}, rotate=90] at (54pt,-408.5pt) {Internal};
\node[font=\fs{22.8}, rotate=90] at (15pt,-287.5pt) {Relevant};
\node[font=\fs{17.5}] at (22.5pt,-556pt) {B)};
\node[font=\fs{17.5}] at (341.5pt,-556pt) {C)};
\node[font=\fs{15.2}] at (201.5pt,-570pt) {Effect of spatial attention};
\node[font=\fs{15.2}] at (455.5pt,-570pt) {Left-side bias};
\node[font=\fs{10.3}] at (405pt,-732.5pt) {left};
\node[font=\fs{10.3}] at (458pt,-732.5pt) {center};
\node[font=\fs{10.3}] at (510pt,-732.5pt) {right};
\draw[line width=0.6pt, -{Triangle[length=4pt,width=3.6pt]}] (441.35pt,-733pt) -- (413.35pt,-733pt);
\draw[line width=0.6pt, -{Triangle[length=4pt,width=3.6pt]}] (473.35pt,-733pt) -- (497.5pt,-733pt);
\node[font=\fs{10.2}] at (462pt,-746pt) {Location of the relevant ensemble};
\end{tikzpicture}
\end{document}
